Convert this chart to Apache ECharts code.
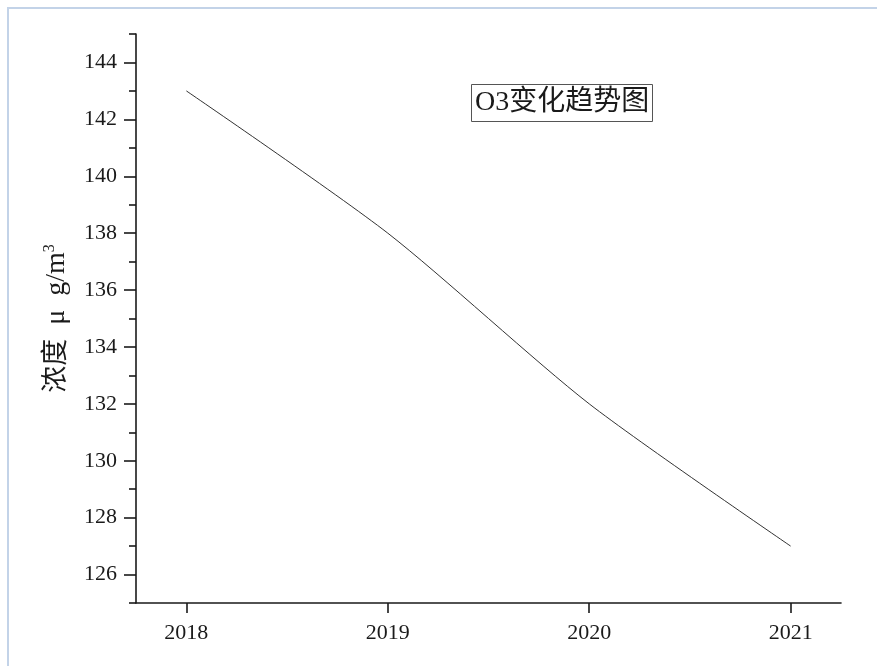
<!DOCTYPE html>
<html>
<head>
<meta charset="utf-8">
<title>O3变化趋势图</title>
<script src="https://cdn.jsdelivr.net/npm/echarts@6/dist/echarts.min.js"></script>
<style>
  html, body { margin: 0; padding: 0; background: #ffffff; }
  #chart { width: 877px; height: 666px; }
</style>
</head>
<body>
<div id="chart"></div>
<script>
// Annual O3 concentration (μg/m³)
const years = [2018, 2019, 2020, 2021];
const o3Values = [143, 138, 132, 127];

// Axis ticks
const yMajorTicks = [126, 128, 130, 132, 134, 136, 138, 140, 142, 144];
const yMinorTicks = [125, 127, 129, 131, 133, 135, 137, 139, 141, 143, 145];

const serif = "'Liberation Serif', 'Noto Sans CJK SC', serif";
const ink = '#1a1a1a';

const chart = echarts.init(document.getElementById('chart'));

chart.setOption({
  backgroundColor: '#ffffff',
  animation: false,
  title: {
    text: 'O3变化趋势图',
    left: 471,
    top: 84,
    padding: [4, 4, 4, 4],
    borderColor: '#555555',
    borderWidth: 1,
    textStyle: {
      fontFamily: serif,
      fontSize: 28,
      fontWeight: 'normal',
      color: ink,
      lineHeight: 30
    }
  },
  grid: { left: 136, right: 36, top: 34, bottom: 63, containLabel: false },
  xAxis: {
    type: 'value',
    min: 2017.75,
    max: 2021.25,
    splitLine: { show: false },
    axisLine: { show: true, lineStyle: { color: ink, width: 1.6 } },
    axisTick: {
      show: true,
      customValues: years,
      length: 10,
      lineStyle: { color: ink, width: 1.6 }
    },
    axisLabel: {
      customValues: years,
      margin: 19,
      fontFamily: serif,
      fontSize: 22,
      color: ink,
      formatter: v => String(v)
    }
  },
  yAxis: [
    {
      type: 'value',
      min: 125,
      max: 145,
      position: 'left',
      splitLine: { show: false },
      axisLine: { show: true, lineStyle: { color: ink, width: 1.6 } },
      axisTick: {
        show: true,
        customValues: yMajorTicks,
        length: 12,
        lineStyle: { color: ink, width: 1.6 }
      },
      axisLabel: {
        customValues: yMajorTicks,
        margin: 19,
        fontFamily: serif,
        fontSize: 22,
        color: ink
      },
      name: '{c|浓度}{t|  μ  g/m}{s|3}',
      nameLocation: 'middle',
      nameRotate: 90,
      nameGap: 64,
      nameTextStyle: {
        rich: {
          c: { fontFamily: serif, fontSize: 27, color: ink, lineHeight: 30 },
          t: { fontFamily: serif, fontSize: 28, color: ink, lineHeight: 30 },
          s: { fontFamily: serif, fontSize: 16, color: ink, lineHeight: 30, verticalAlign: 'top' }
        }
      }
    },
    {
      type: 'value',
      min: 125,
      max: 145,
      position: 'left',
      offset: 0,
      splitLine: { show: false },
      axisLine: { show: false },
      axisTick: {
        show: true,
        customValues: yMinorTicks,
        length: 7,
        lineStyle: { color: ink, width: 1.6 }
      },
      axisLabel: { show: false }
    }
  ],
  series: [
    {
      type: 'line',
      data: years.map((y, i) => [y, o3Values[i]]),
      smooth: 0.25,
      showSymbol: false,
      lineStyle: { color: '#333333', width: 1 },
      yAxisIndex: 0
    }
  ],
  graphic: [
    {
      type: 'polyline',
      silent: true,
      shape: { points: [[8, 666], [8, 8], [877, 8]] },
      style: { stroke: '#c3d3e8', lineWidth: 2, fill: null }
    }
  ]
});
</script>
</body>
</html>
